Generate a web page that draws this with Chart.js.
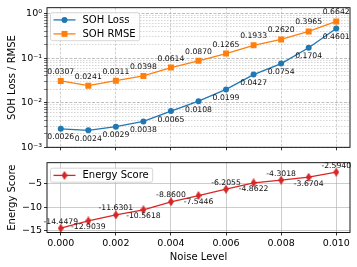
<!DOCTYPE html>
<html>
<head>
<meta charset="utf-8">
<script src="https://cdn.jsdelivr.net/npm/chart.js@4.4.0/dist/chart.umd.min.js"></script>
<style>
  html, body { margin: 0; padding: 0; background: #fff; }
  #wrap { position: relative; width: 357px; height: 267px; }
  #top { position: absolute; left: 0; top: 0; }
  #bottom { position: absolute; left: 0; top: 155px; }
</style>
</head>
<body>
<div id="wrap">
  <canvas id="top" width="357" height="155"></canvas>
  <canvas id="bottom" width="357" height="112"></canvas>
</div>
<script>
// data
const noiseLevels = [0.000, 0.001, 0.002, 0.003, 0.004, 0.005, 0.006, 0.007, 0.008, 0.009, 0.010];
const sohLoss = [0.0026, 0.0024, 0.0029, 0.0038, 0.0065, 0.0108, 0.0199, 0.0427, 0.0754, 0.1704, 0.4601];
const sohRmse = [0.0307, 0.0241, 0.0311, 0.0398, 0.0614, 0.0870, 0.1265, 0.1933, 0.2620, 0.3965, 0.6642];
const energyScore = [-14.4479, -12.9039, -11.6301, -10.5618, -8.8600, -7.5446, -6.2055, -4.8622, -4.3018, -3.6704, -2.5940];

// ticks
const xTicks = [0.000, 0.002, 0.004, 0.006, 0.008, 0.010];
const xTickLabels = ['0.000', '0.002', '0.004', '0.006', '0.008', '0.010'];
const topDecades = [0.001, 0.01, 0.1, 1];
const topDecadeLabels = ['10\u207B\u00B3', '10\u207B\u00B2', '10\u207B\u00B9', '10\u2070'];
const energyTicks = [-15, -10, -5];
const energyTickLabels = ['\u221215', '\u221210', '\u22125'];

const BLUE = '#1f77b4', ORANGE = '#ff7f0e', RED = '#d62728';
const FONT = "'DejaVu Sans', sans-serif";

Chart.defaults.font.family = FONT;
Chart.defaults.font.size = 9.5;
Chart.defaults.color = '#000';

const topMax = 1.35;
const minorTicks = [];
topDecades.forEach(d => {
  for (let m = 1; m <= 9; m++) {
    const v = +(m * d).toPrecision(3);
    if (v <= topMax) minorTicks.push(v);
  }
});
const isMajor = v => topDecades.indexOf(v) >= 0;

function thinDiamond(w, h, color) {
  const c = document.createElement('canvas');
  c.width = w; c.height = h;
  const g = c.getContext('2d');
  g.fillStyle = color;
  g.beginPath();
  g.moveTo(w / 2, 0); g.lineTo(w, h / 2); g.lineTo(w / 2, h); g.lineTo(0, h / 2);
  g.closePath(); g.fill();
  return c;
}
const diamond = thinDiamond(6, 9, RED);

// value labels next to the points
const pointLabels = {
  id: 'pointLabels',
  afterDatasetsDraw(chart, args, opts) {
    const ctx = chart.ctx;
    ctx.save();
    ctx.font = '7.7px ' + FONT;
    ctx.fillStyle = '#111';
    ctx.textAlign = 'center';
    ctx.textBaseline = 'middle';
    chart.data.datasets.forEach((ds, di) => {
      const meta = chart.getDatasetMeta(di);
      const off = opts.offsets[di];
      meta.data.forEach((pt, i) => {
        let dy = off;
        if (opts.alternate && i % 2 === 1) dy = -off;
        ctx.fillText(ds.data[i].y.toFixed(4), pt.x, pt.y + dy);
      });
    });
    ctx.restore();
  }
};

// matplotlib style frame + legend box
const frameLegend = {
  id: 'frameLegend',
  afterDraw(chart, args, opts) {
    const ctx = chart.ctx, a = chart.chartArea;
    ctx.save();
    ctx.strokeStyle = '#000';
    ctx.lineWidth = 0.9;
    ctx.strokeRect(a.left, a.top, a.right - a.left, a.bottom - a.top);

    const x0 = a.left + 3.5, y0 = a.top + opts.dy;
    const row = 14;
    const sets = chart.data.datasets;
    ctx.font = '10px ' + FONT;
    let tw = 0;
    sets.forEach(ds => { tw = Math.max(tw, ctx.measureText(ds.label).width); });
    const w = 32 + tw + 4, h = sets.length * row;
    ctx.fillStyle = 'rgba(255,255,255,0.85)';
    ctx.strokeStyle = '#cccccc';
    ctx.lineWidth = 0.8;
    ctx.beginPath();
    ctx.roundRect(x0, y0, w, h, 2);
    ctx.fill();
    ctx.stroke();
    sets.forEach((ds, i) => {
      const y = y0 + 7.2 + i * row;
      ctx.strokeStyle = ds.borderColor;
      ctx.lineWidth = 1.3;
      ctx.beginPath();
      ctx.moveTo(x0 + 3, y); ctx.lineTo(x0 + 25, y);
      ctx.stroke();
      ctx.fillStyle = ds.backgroundColor;
      Chart.helpers.drawPoint(ctx, {pointStyle: ds.pointStyle, radius: ds.pointRadius, rotation: 0, borderWidth: 0}, x0 + 14, y);
      ctx.fillStyle = '#000';
      ctx.textAlign = 'left';
      ctx.textBaseline = 'middle';
      ctx.fillText(ds.label, x0 + 32, y + 0.5);
    });
    ctx.restore();
  }
};

const xy = (ys) => noiseLevels.map((x, i) => ({x: x, y: ys[i]}));

function xScale(showLabels, height) {
  return {
    type: 'linear',
    min: -0.0005,
    max: 0.0105,
    afterBuildTicks: s => { s.ticks = xTicks.map(v => ({value: v})); },
    afterFit: s => { s.height = height; },
    ticks: {
      display: showLabels,
      padding: 2.5,
      autoSkip: false,
      maxRotation: 0,
      callback: v => xTickLabels[xTicks.indexOf(v)]
    },
    grid: {
      color: showLabels ? 'rgba(176,176,176,0.8)' : 'rgba(176,176,176,0.75)',
      lineWidth: 0.8,
      tickColor: '#000',
      tickLength: 3,
      tickWidth: 0.8
    },
    border: { display: false, dash: showLabels ? [] : [2.5, 1.5] }
  };
}

new Chart(document.getElementById('top'), {
  type: 'line',
  data: {
    datasets: [
      {label: 'SOH Loss', data: xy(sohLoss), borderColor: BLUE, backgroundColor: BLUE,
       pointStyle: 'circle', pointRadius: 3, pointBorderWidth: 0, borderWidth: 1.3},
      {label: 'SOH RMSE', data: xy(sohRmse), borderColor: ORANGE, backgroundColor: ORANGE,
       pointStyle: 'rect', pointRadius: 4.2, pointBorderWidth: 0, borderWidth: 1.3}
    ]
  },
  options: {
    responsive: false,
    animation: false,
    devicePixelRatio: 1,
    layout: { padding: {top: 6, right: 7, left: 0, bottom: 0} },
    plugins: {
      legend: {display: false},
      tooltip: {enabled: false},
      pointLabels: {offsets: [8.5, -9]},
      frameLegend: {dy: 5}
    },
    scales: {
      x: xScale(false, 5),
      y: {
        type: 'logarithmic',
        min: 0.001,
        max: topMax,
        afterBuildTicks: s => { s.ticks = minorTicks.map(v => ({value: v})); },
        afterFit: s => { s.width = 47; },
        ticks: {
          autoSkip: false,
          padding: 2,
          callback: v => { const k = topDecades.indexOf(v); return k >= 0 ? topDecadeLabels[k] : ''; }
        },
        grid: {
          color: c => (c.tick && isMajor(c.tick.value)) ? 'rgba(160,160,160,0.85)' : 'rgba(176,176,176,0.65)',
          lineWidth: 0.8,
          tickColor: '#000',
          tickLength: 3,
          tickWidth: c => (c.tick && isMajor(c.tick.value)) ? 0.8 : 0.5
        },
        border: { display: false, dash: c => (c.tick && isMajor(c.tick.value)) ? [3, 1.5] : [1.5, 1.5] },
        title: { display: true, text: 'SOH Loss / RMSE', font: {size: 10}, padding: {top: 6, bottom: 0} }
      }
    }
  },
  plugins: [pointLabels, frameLegend]
});

new Chart(document.getElementById('bottom'), {
  type: 'line',
  data: {
    datasets: [
      {label: 'Energy Score', data: xy(energyScore), borderColor: RED, backgroundColor: RED,
       pointStyle: diamond, pointRadius: 4, pointBorderWidth: 0, borderWidth: 1.3}
    ]
  },
  options: {
    responsive: false,
    animation: false,
    devicePixelRatio: 1,
    layout: { padding: {top: 5, right: 7, left: 0, bottom: 0} },
    plugins: {
      legend: {display: false},
      tooltip: {enabled: false},
      pointLabels: {offsets: [-6.5], alternate: true},
      frameLegend: {dy: 5.5}
    },
    scales: {
      x: Object.assign(xScale(true, 34.5), {
        title: { display: true, text: 'Noise Level', font: {size: 10}, padding: {top: 0, bottom: 4} }
      }),
      y: {
        type: 'linear',
        min: -15.35,
        max: -0.6,
        afterBuildTicks: s => { s.ticks = energyTicks.map(v => ({value: v})); },
        afterFit: s => { s.width = 47; },
        ticks: {
          autoSkip: false,
          padding: 2,
          callback: v => energyTickLabels[energyTicks.indexOf(v)]
        },
        grid: {
          color: 'rgba(176,176,176,0.8)',
          lineWidth: 0.8,
          tickColor: '#000',
          tickLength: 3,
          tickWidth: 0.8
        },
        border: { display: false },
        title: { display: true, text: 'Energy Score', font: {size: 10}, padding: {top: 6, bottom: 0} }
      }
    }
  },
  plugins: [pointLabels, frameLegend]
});
</script>
</body>
</html>
